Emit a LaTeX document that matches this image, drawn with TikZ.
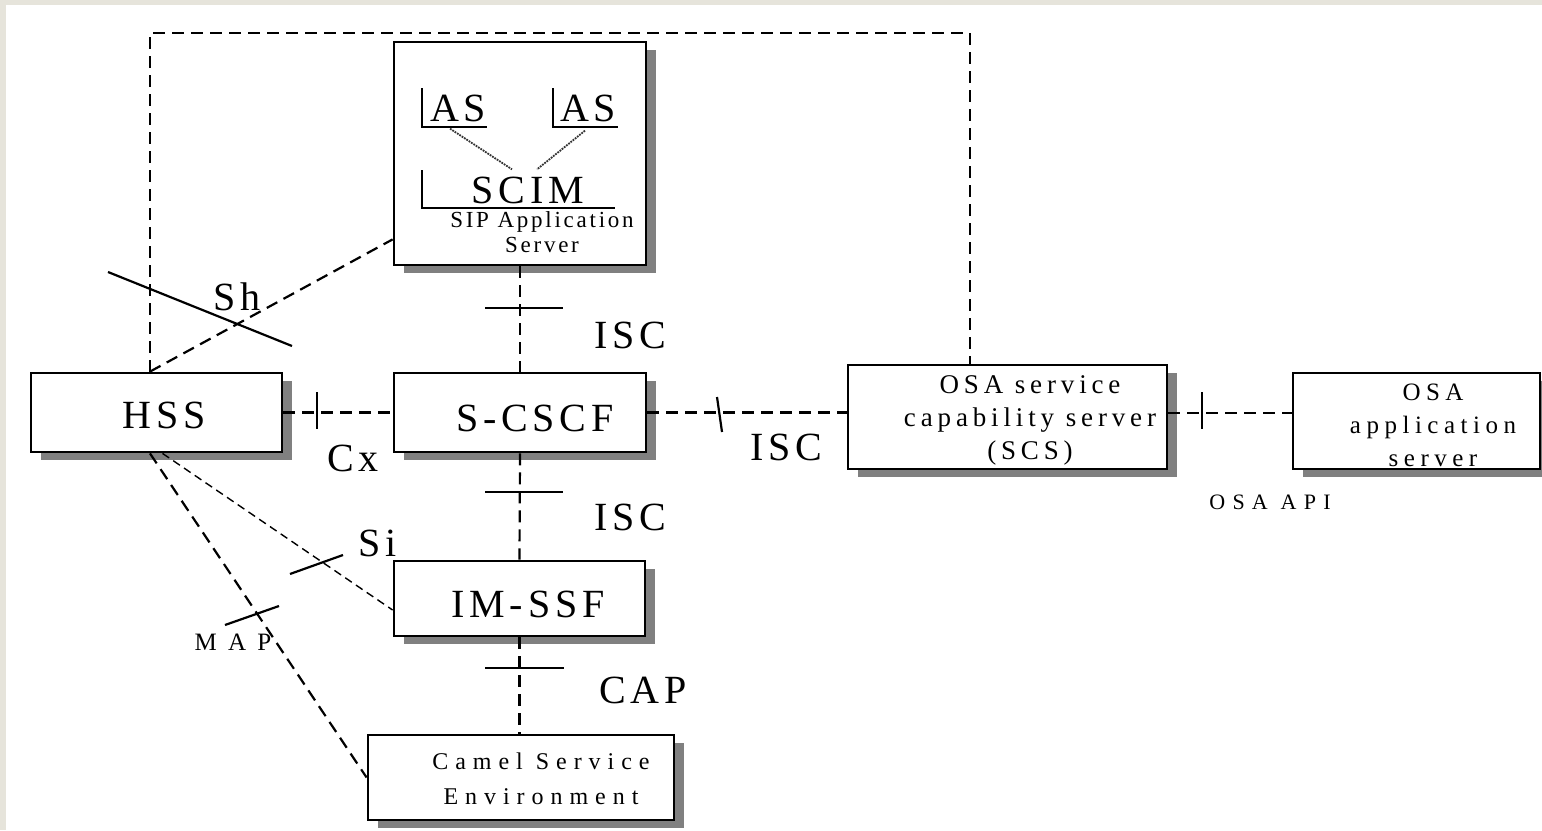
\documentclass[tikz,border=0pt]{standalone}
\usepackage{fontspec}
\setmainfont{Liberation Serif}
\newfontfamily\spc[LetterSpace=12]{Liberation Serif}
\usetikzlibrary{shadows}
\definecolor{edge}{HTML}{E6E4DB}
\definecolor{shade}{HTML}{808080}

\begin{document}
\begin{tikzpicture}[x=1pt,y=-1pt,
    box/.style={draw,line width=2.8pt,fill=white,inner sep=0pt,
      drop shadow={shadow xshift=10pt,shadow yshift=-8pt,opacity=1,fill=shade}},
    dline/.style={line width=2.2pt,dash pattern=on 12pt off 7pt},
    fine/.style={line width=1.4pt,dash pattern=on 8pt off 5pt},
    cut/.style={line width=2.2pt},
    dots/.style={line width=1.8pt,densely dotted,black!80},
    big/.style={inner sep=0pt,font=\fontsize{40}{42}\selectfont\spc},
    txt/.style={inner sep=0pt,align=center,font=\fontsize{27}{33}\selectfont\spc\addfontfeature{LetterSpace=18}}]
    \useasboundingbox (0,0) rectangle (1542,830);
    \fill[edge] (0,0) rectangle (1542,830);
    \fill[white] (6,5) rectangle (1542,830);

    \coordinate (ring) at (560,33);

    \node[box,minimum width=252,minimum height=223] (sipas) at (520,153.5) {};
    \node[box,minimum width=251,minimum height=79] (hss) at (156.5,412.5) {};
    \node[box,minimum width=252,minimum height=79] (scscf) at (520,412.5) {};
    \node[box,minimum width=251,minimum height=75] (imssf) at (519.5,598.5) {};
    \node[box,minimum width=306,minimum height=85] (camel) at (521,777.5) {};
    \node[box,minimum width=319,minimum height=104] (scs) at (1007.5,417) {};
    \node[box,minimum width=247,minimum height=96] (osaas) at (1416.5,421) {};

    \node[big] (as1) at (458,108) {AS};
    \node[big] (as2) at (588,108) {AS};
    \node[big] (scim) at (528,190) {SCIM};
    \node[txt,font=\fontsize{23}{25}\selectfont\spc] (sipt) at (542,232) {SIP Application\\Server};
    \draw[line width=2.8pt] (422,88) |- (487,127);
    \draw[line width=2.8pt] (553,88) |- (618,127);
    \draw[line width=2.8pt] (422,170) |- (615,208);
    \draw[dots] ([shift={(-8,7)}]as1.south) -- ([shift={(-16,-7)}]scim.north);
    \draw[dots] ([shift={(-3,9)}]as2.south) -- ([shift={(9,-7)}]scim.north);

    \node[big] (hsst) at (164,415) {HSS};
    \node[big] (scscft) at (535,418) {S-CSCF};
    \node[big] (imssft) at (528,604) {IM-SSF};
    \node[txt,font=\fontsize{24}{35}\selectfont\spc\addfontfeature{LetterSpace=29}] (camelt) at (541,779) {Camel Service\\Environment};
    \node[txt] (scst) at (1030,420) {OSA service\\capability server\\(SCS)};
    \node[txt,font=\fontsize{25}{33}\selectfont\spc\addfontfeature{LetterSpace=22}] (osaast) at (1433,425) {OSA\\application\\server};

    \draw[dline] ([xshift=-6.5pt]hss.north) |- (ring) -| ([xshift=-37.5pt]scs.north);
    \draw[dline] ([xshift=-6.5pt]hss.north) -- ([yshift=27pt]sipas.south west);
    \draw[dline] (hss.east) -- (scscf.west);
    \draw[dline] (scscf.east) -- (scscf.east -| scs.west);
    \draw[dline] ([yshift=4pt]scs.east) -- ([yshift=4pt]scs.east -| osaas.west);
    \draw[dline] (sipas.south) -- (scscf.north);
    \draw[dline] (scscf.south) -- (imssf.north);
    \draw[dline] (imssf.south) -- (imssf.south |- camel.north);
    \draw[fine] ([xshift=6pt]hss.south) -- ([yshift=-11.5pt]imssf.west);
    \draw[dline] ([xshift=-6.5pt]hss.south) -- (camel.west);

    \draw[cut] (108,272) -- (292,346);
    \draw[cut] (317,392) -- (317,429);
    \draw[cut] (717,397) -- (722,432);
    \draw[cut] (1202,392) -- (1202,429);
    \draw[cut] (485,308) -- (563,308);
    \draw[cut] (485,492) -- (563,492);
    \draw[cut] (485,668) -- (564,668);
    \draw[cut] (290,574) -- (343,555);
    \draw[cut] (225,625) -- (279,606);

    \node[big] (sh) at (237,297) {Sh};
    \node[big] (cx) at (353,458) {Cx};
    \node[big] (isc1) at (630,335) {ISC};
    \node[big] (isc2) at (786,447) {ISC};
    \node[big] (isc3) at (630,517) {ISC};
    \node[big] (si) at (378,543) {Si};
    \node[big] (cap) at (643,690) {CAP};
    \node[inner sep=0pt,font=\fontsize{25}{27}\selectfont\addfontfeature{LetterSpace=45}] (map) at (233,642) {MAP};
    \node[inner sep=0pt,font=\fontsize{22}{24}\selectfont\addfontfeature{LetterSpace=33}] (api) at (1270,502) {OSA API};
\end{tikzpicture}
\end{document}
